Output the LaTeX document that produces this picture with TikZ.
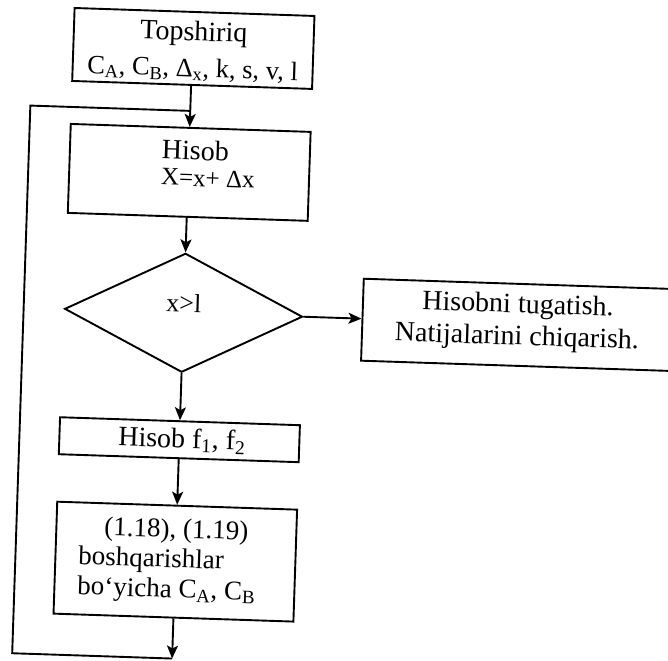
\documentclass[tikz,border=0pt]{standalone}
\usepackage{fontspec}
\setmainfont{Liberation Serif}
\usetikzlibrary{shapes.geometric,arrows.meta}
\tikzset{
  box/.style={draw, rectangle, inner sep=0pt, line width=1.9pt},
  dia/.style={draw, diamond, inner sep=0pt, line width=1.9pt, minimum width=238pt, minimum height=119pt},
  arr/.style={-{Stealth[length=13pt,width=11pt,inset=3pt]}, line width=1.9pt},
  ln/.style={line width=1.9pt},
}
\begin{document}
\begin{tikzpicture}[x=1pt,y=-1pt]
\useasboundingbox (0,0) rectangle (668,660);
\clip (0,0) rectangle (668,660);
\begin{scope}[rotate around={-1.9:(190,330)}, transform shape]
\node[box] (b1) at (184,48.5) {\parbox[c][73pt][t]{240pt}{\centering\lineskiplimit=-30pt\fontsize{28}{36.3}\selectfont\rule{0pt}{28.7pt}Topshiriq\\{\fontsize{26.5}{36.3}\selectfont C\textsubscript{A}, C\textsubscript{B}, Δ\textsubscript{x}, k, s, v, l}}};
\node[box] (b2) at (184,172.5) {\parbox[c][89pt][t]{240pt}{\raggedright\leftskip=92pt\lineskiplimit=-30pt\fontsize{28}{26}\selectfont\rule{0pt}{32pt}Hisob\\{\fontsize{25}{26}\selectfont X=x+ Δx}}};
\node[dia] (d) at (183,313) {\fontsize{26}{26}\selectfont\raisebox{1pt}[0pt][0pt]{x>l}};
\node[box] (b3) at (517,314) {\parbox[c][82pt][t]{310pt}{\centering\lineskiplimit=-30pt\fontsize{28}{32}\selectfont\rule{0pt}{29pt}Hisobni tugatish.\\Natijalarini chiqarish.}};
\node[box] (b4) at (183,440) {\parbox[c][37pt][t]{240pt}{\raggedright\leftskip=59pt\fontsize{28}{28}\selectfont\rule{0pt}{26.6pt}Hisob f\textsubscript{1}, f\textsubscript{2}}};
\node[box] (b5) at (183,562) {\parbox[c][112pt][t]{240pt}{\raggedright\leftskip=23pt\lineskiplimit=-30pt\fontsize{27}{30}\selectfont\rule{0pt}{32pt}\makebox[194pt]{(1.18), (1.19)}\\boshqarishlar\\bo‘yicha C\textsubscript{A}, C\textsubscript{B}}};
\coordinate (lt) at (183,111);
\coordinate (lb) at (183,659);
\coordinate (ll) at (23,659);
\draw[arr] (b1.south -| lt) -- (b2.north -| lt);
\draw[ln] (lb) -- (ll) |- (lt);
\draw[arr] (b2.south -| lt) -- (d.north);
\draw[arr] (d.east) -- (d.east -| b3.west);
\draw[arr] (d.south) -- (b4.north);
\draw[arr] (b4.south) -- (b5.north);
\draw[arr] (b5.south) -- (lb);
\end{scope}
\end{tikzpicture}
\end{document}
